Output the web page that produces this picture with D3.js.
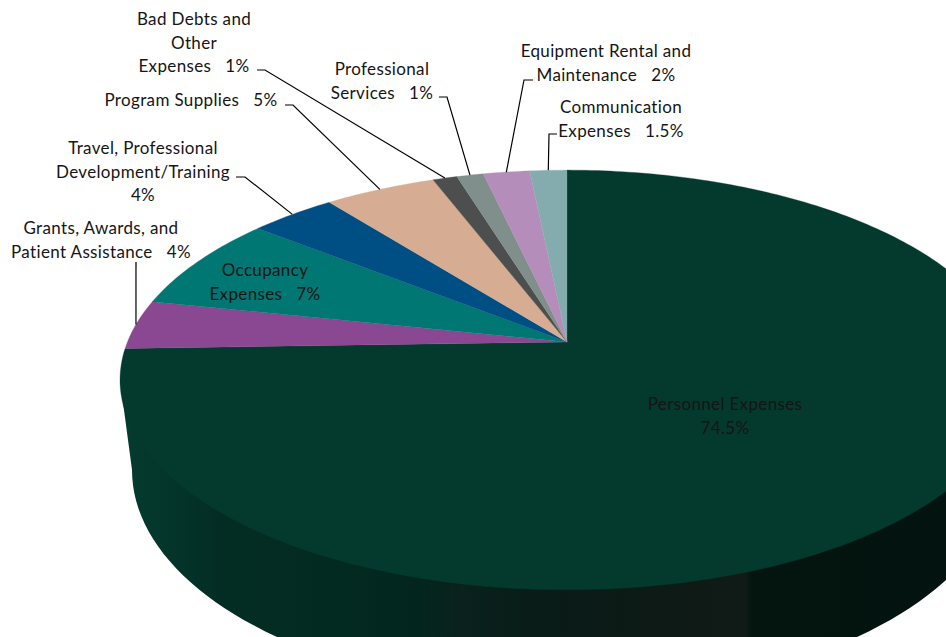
<!DOCTYPE html>
<html>
  <head>
    <meta charset="utf-8">
    <title>Expenses</title>
    <script src="https://cdn.jsdelivr.net/npm/d3@7/dist/d3.min.js"></script>
    <style>
      body { margin: 0; background: #fff; }
      svg { display: block; }
      text { font-family: Lato, sans-serif; font-size: 17px; letter-spacing: 0.35px; fill: #151515; white-space: pre; text-anchor: middle; }
      .leader { fill: none; stroke: #000; stroke-width: 1.2; }
    </style>
  </head>

  <body>
    <div id="chart"></div>

    <script>
      // data, clockwise from 12 o'clock (printed labels are rounded, shares)
      const categories = ["Personnel Expenses", "Grants, Awards, and Patient Assistance", "Occupancy Expenses",
        "Travel, Professional Development/Training", "Program Supplies", "Bad Debts and Other Expenses",
        "Professional Services", "Equipment Rental and Maintenance", "Communication Expenses"];
      const shares = [74.5, 3.8, 7.4, 3.7, 4.8, 1.05, 1.15, 2, 1.6];
      const labelLines = [
        ["Personnel Expenses", "74.5%"],
        ["Grants, Awards, and", "Patient Assistance   4%"],
        ["Occupancy", "Expenses   7%"],
        ["Travel, Professional", "Development/Training", "4%"],
        ["Program Supplies   5%"],
        ["Bad Debts and", "Other", "Expenses   1%"],
        ["Professional", "Services   1%"],
        ["Equipment Rental and", "Maintenance   2%"],
        ["Communication", "Expenses   1.5%"]
      ];

      // styling and layout
      const colors = ["#043a2e", "#8a4792", "#007773", "#004f84", "#d6ac92", "#4c4f4e", "#808f8c", "#b58dbb", "#84acae"];
      const labelAnchors = [[725, 410], [101, 234], [265, 276], [143, 154], [191, 106], [194, 25], [382, 75], [606, 57], [621, 113]];
      const leaderStarts = [null, [[136, 262], [136, 262]], null, [[236, 177], [245, 177]], [[285, 105], [293, 105]],
        [[257, 70], [265, 70]], [[439, 97], [447, 97]], [[533, 80], [524, 80]], [[557, 134], [549, 134]]];
      const sideStops = [[130, "#053a2e"], [170, "#04352a"], [220, "#032d24"], [300, "#032b22"], [420, "#02261e"],
        [460, "#0a211c"], [530, "#091c18"], [640, "#0d1a16"], [745, "#111a16"], [752, "#04150f"], [946, "#03130f"]];

      const width = 946, height = 637, lineHeight = 23.5;
      const apex = [567, 342];
      const k = 0.181, a = 439.6, b = 203;   // tilt of the pie top
      const base = { cx: 567, cy: 470, rx: 435, ry: 224 };
      const tau = Math.PI * 2;

      // angle on the circle -> picture, with the near side larger
      function project(t) {
        const u = Math.sin(t), v = Math.cos(t), w = 1 + k * v;
        return [apex[0] + a * u / w, apex[1] - b * v / w];
      }

      const svg = d3.select("#chart").append("svg")
        .attr("width", width)
        .attr("height", height);
      const line = d3.line();

      const gradX = d3.scaleLinear().domain([120, 1014]).range([0, 1]);
      const grad = svg.append("defs").append("linearGradient")
        .attr("id", "side")
        .attr("gradientUnits", "userSpaceOnUse")
        .attr("x1", 120).attr("x2", 1014).attr("y1", 0).attr("y2", 0);
      grad.selectAll("stop")
        .data(sideStops)
        .enter().append("stop")
          .attr("offset", function(d) { return gradX(d[0]); })
          .attr("stop-color", function(d) { return d[1]; });

      // side wall: left edge of top, around the lower half of the base, back up
      const wall = [[120, 380]].concat(d3.range(180, -1, -2).map(function(deg) {
        const t = deg * Math.PI / 180;
        return [base.cx + base.rx * Math.cos(t), base.cy + base.ry * Math.sin(t)];
      }));
      wall.push([1014, 380]);
      svg.append("path")
        .attr("d", line(wall) + "Z")
        .attr("fill", "url(#side)");

      // slices
      const arcs = d3.pie().sort(null).startAngle(0).endAngle(tau)(shares);

      svg.selectAll(".slice")
        .data(arcs)
        .enter().append("path")
          .attr("class", "slice")
          .attr("fill", function(d) { return colors[d.index]; })
          .attr("stroke", function(d) { return colors[d.index]; })
          .attr("stroke-width", 0.3)
          .attr("d", function(d) {
            const n = Math.max(4, Math.ceil((d.endAngle - d.startAngle) * 60));
            const pts = d3.range(n + 1).map(function(i) {
              return project(d.startAngle + (d.endAngle - d.startAngle) * i / n);
            });
            return line([apex].concat(pts)) + "Z";
          });

      // leader lines run to the middle of the slice's rim
      svg.selectAll(".leader")
        .data(arcs.filter(function(d) { return leaderStarts[d.index]; }))
        .enter().append("path")
          .attr("class", "leader")
          .attr("d", function(d) {
            return line(leaderStarts[d.index].concat([project((d.startAngle + d.endAngle) / 2)]));
          });

      // labels
      const labels = svg.selectAll(".label")
        .data(labelLines)
        .enter().append("text")
          .attr("class", "label")
          .attr("data-name", function(d, i) { return categories[i]; });
      labels.selectAll("tspan")
        .data(function(d, i) {
          return d.map(function(s, j) {
            return { s: s, x: labelAnchors[i][0], y: labelAnchors[i][1] + j * lineHeight };
          });
        })
        .enter().append("tspan")
          .attr("x", function(d) { return d.x; })
          .attr("y", function(d) { return d.y; })
          .text(function(d) { return d.s; });
    </script>
  </body>
</html>
